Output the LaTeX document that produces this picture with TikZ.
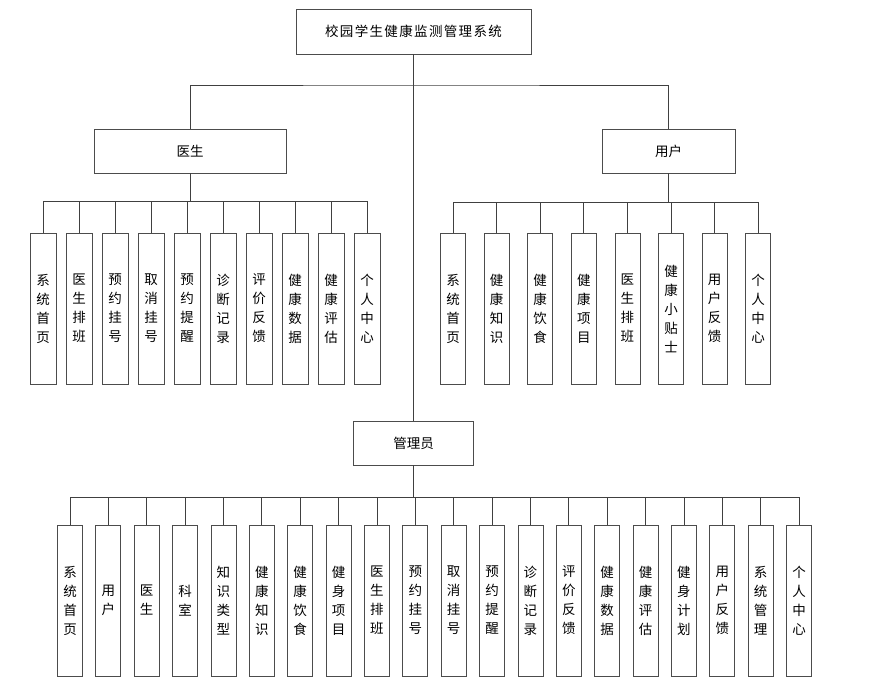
\documentclass[tikz,border=0pt]{standalone}
\usepackage{fontspec}
\setmainfont{Noto Sans CJK SC}
\begin{document}
\begin{tikzpicture}[x=1pt,y=-1pt,
  box/.style={draw=black!70,line width=0.8pt,inner sep=0pt,font=\fontsize{13.5}{19}\selectfont,text=black},
  kid/.style={box,minimum width=25pt,minimum height=151pt,align=center},
  wire/.style={draw=black!75,line width=0.8pt}]
\useasboundingbox (0,0) rectangle (878,697);
% main boxes
\node[box,minimum width=235pt,minimum height=45pt] (root) at (413.5,31.5) {\addfontfeature{LetterSpace=10}校园学生健康监测管理系统};
\node[box,minimum width=192pt,minimum height=44pt] (doc) at (190,151) {医生};
\node[box,minimum width=133pt,minimum height=44pt] (usr) at (668.5,151) {用户};
\node[box,minimum width=120pt,minimum height=44pt] (adm) at (413.5,443) {管理员};
% top level connectors
\coordinate (topbus) at (413.5,85);
\draw[wire] (root.south) -- (adm.north);
\draw[wire] (doc.north) |- (topbus) -| (usr.north);
% doctor children
\foreach \t [count=\i] in {{系\\统\\首\\页},{医\\生\\排\\班},{预\\约\\挂\\号},{取\\消\\挂\\号},{预\\约\\提\\醒},{诊\\断\\记\\录},{评\\价\\反\\馈},{健\\康\\数\\据},{健\\康\\评\\估},{个\\人\\中\\心}}
  {\node[kid,minimum width=26pt] (d\i) at ({43+36*(\i-1)},308.5) {\t};}
\coordinate (dbus) at (190,201);
\draw[wire] (doc.south) -- (dbus);
\draw[wire] (d1.north |- dbus) -- (d10.north |- dbus);
\foreach \i in {1,...,10} {\draw[wire] (d\i.north) -- (d\i.north |- dbus);}
% user children
\foreach \t [count=\i] in {{系\\统\\首\\页},{健\\康\\知\\识},{健\\康\\饮\\食},{健\\康\\项\\目},{医\\生\\排\\班},{健\\康\\小\\贴\\士},{用\\户\\反\\馈},{个\\人\\中\\心}}
  {\node[kid] (u\i) at ({453+43.6*(\i-1)},308.5) {\t};}
\coordinate (ubus) at (668.5,202);
\draw[wire] (usr.south) -- (ubus);
\draw[wire] (u1.north |- ubus) -- (u8.north |- ubus);
\foreach \i in {1,...,8} {\draw[wire] (u\i.north) -- (u\i.north |- ubus);}
% admin children
\foreach \t [count=\i] in {{系\\统\\首\\页},{用\\户},{医\\生},{科\\室},{知\\识\\类\\型},{健\\康\\知\\识},{健\\康\\饮\\食},{健\\身\\项\\目},{医\\生\\排\\班},{预\\约\\挂\\号},{取\\消\\挂\\号},{预\\约\\提\\醒},{诊\\断\\记\\录},{评\\价\\反\\馈},{健\\康\\数\\据},{健\\康\\评\\估},{健\\身\\计\\划},{用\\户\\反\\馈},{系\\统\\管\\理},{个\\人\\中\\心}}
  {\node[kid] (a\i) at ({70+38.37*(\i-1)},600.5) {\t};}
\coordinate (abus) at (413.5,497);
\draw[wire] (adm.south) -- (abus);
\draw[wire] (a1.north |- abus) -- (a20.north |- abus);
\foreach \i in {1,...,20} {\draw[wire] (a\i.north) -- (a\i.north |- abus);}
\end{tikzpicture}
\end{document}
